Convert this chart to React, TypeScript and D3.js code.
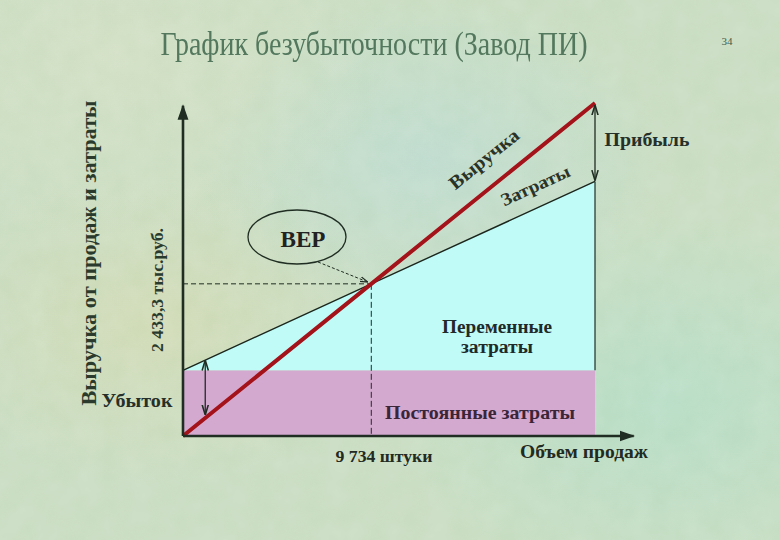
import React from "react";
import * as d3 from "d3";

// ---- data ----
const volumePoints = [0, 9734, 21300]; // units sold
const revenue = [0, 2433.3, 5325]; // thousand rub
const totalCosts = [1050, 2433.3, 4070]; // thousand rub
const fixedCosts = 1050;
const bepUnits = 9734;
const bepRevenue = 2433.3;
const lossUnits = 1150;
const xAxisMax = 23300;
const yAxisMax = 5280;

const titleText = "График безубыточности (Завод ПИ)";
const pageNumber = "34";
const yAxisLabel = "Выручка от продаж и затраты";
const bepValueLabel = "2 433,3 тыс.руб.";
const bepUnitsLabel = "9 734 штуки";
const xAxisLabel = "Объем продаж";

const W = 780;
const H = 540;

export default function App() {
  const x = d3.scaleLinear().domain([0, 21300]).range([183, 595]);
  const y = d3.scaleLinear().domain([0, 5325]).range([436, 103]);

  const maxU = volumePoints[volumePoints.length - 1];
  const costAt = (u: number) =>
    totalCosts[0] + (u * (totalCosts[2] - totalCosts[0])) / maxU;
  const revAt = (u: number) => (u * revenue[2]) / maxU;

  const line = d3
    .line<[number, number]>()
    .x((d) => x(d[0]))
    .y((d) => y(d[1]));

  const revPath = line(volumePoints.map((v, i) => [v, revenue[i]] as [number, number]));
  const costPath = line(volumePoints.map((v, i) => [v, totalCosts[i]] as [number, number]));

  const variableArea = d3
    .area<[number, number]>()
    .x((d) => x(d[0]))
    .y0(y(fixedCosts))
    .y1((d) => y(d[1]))(volumePoints.map((v, i) => [v, totalCosts[i]] as [number, number]));

  const revAngle =
    (Math.atan2(y(revenue[2]) - y(0), x(maxU) - x(0)) * 180) / Math.PI;
  const costAngle =
    (Math.atan2(y(totalCosts[2]) - y(totalCosts[0]), x(maxU) - x(0)) * 180) / Math.PI;

  const serif = "Liberation Serif";
  const dark = "#1f2d22";

  return (
    <div style={{ position: "fixed", left: 0, top: 0, width: W, height: H }}>
      <svg width={W} height={H} viewBox={`0 0 ${W} ${H}`} style={{ display: "block" }}>
        <defs>
          <radialGradient id="g1" cx="0.2" cy="0.6" r="0.3">
            <stop offset="0" stopColor="#d6d8aa" stopOpacity="0.55" />
            <stop offset="1" stopColor="#d6d8aa" stopOpacity="0" />
          </radialGradient>
          <radialGradient id="g2" cx="0.55" cy="0.3" r="0.3">
            <stop offset="0" stopColor="#b8dad2" stopOpacity="0.7" />
            <stop offset="1" stopColor="#b8dad2" stopOpacity="0" />
          </radialGradient>
          <radialGradient id="g3" cx="0.85" cy="0.75" r="0.35">
            <stop offset="0" stopColor="#b0dcc4" stopOpacity="0.8" />
            <stop offset="1" stopColor="#b0dcc4" stopOpacity="0" />
          </radialGradient>
          <radialGradient id="g4" cx="0.15" cy="0.1" r="0.35">
            <stop offset="0" stopColor="#d2dfc2" stopOpacity="0.8" />
            <stop offset="1" stopColor="#d2dfc2" stopOpacity="0" />
          </radialGradient>
          <filter id="noise" x="0" y="0" width="100%" height="100%">
            <feTurbulence type="fractalNoise" baseFrequency="0.04" numOctaves="3" seed="4" />
            <feColorMatrix
              type="matrix"
              values="0 0 0 0 1  0 0 0 0 1  0 0 0 0 1  0 0 0 0.35 0"
            />
          </filter>
          <filter id="soft" x="-5%" y="-20%" width="110%" height="140%">
            <feGaussianBlur stdDeviation="0.5" />
          </filter>
          <marker id="arrowEnd" viewBox="0 0 10 10" refX="9" refY="5" markerWidth="6" markerHeight="6" orient="auto">
            <path d="M0,1.5 L10,5 L0,8.5 z" fill={dark} />
          </marker>
          <marker id="arrowSmall" viewBox="0 0 10 10" refX="9" refY="5" markerWidth="8" markerHeight="8" orient="auto">
            <path d="M0,2 L10,5 L0,8" fill="none" stroke={dark} strokeWidth="1.5" />
          </marker>
          <marker id="arrowSmallStart" viewBox="0 0 10 10" refX="1" refY="5" markerWidth="8" markerHeight="8" orient="auto">
            <path d="M10,2 L0,5 L10,8" fill="none" stroke={dark} strokeWidth="1.5" />
          </marker>
        </defs>

        {/* background */}
        <rect width={W} height={H} fill="#c7dcc0" />
        <rect width={W} height={H} fill="url(#g1)" />
        <rect width={W} height={H} fill="url(#g2)" />
        <rect width={W} height={H} fill="url(#g3)" />
        <rect width={W} height={H} fill="url(#g4)" />
        <rect width={W} height={H} filter="url(#noise)" opacity="0.45" />

        {/* title */}
        <text x={374} y={55} textAnchor="middle" fontFamily={serif} fontSize={33} fill="#52785d"
          textLength={427} lengthAdjust="spacingAndGlyphs" filter="url(#soft)">
          {titleText}
        </text>
        <text x={727} y={45} textAnchor="middle" fontFamily={serif} fontSize={11} fill="#3d5e4c">
          {pageNumber}
        </text>

        {/* fixed costs */}
        <rect x={x(0)} y={y(fixedCosts)} width={x(maxU) - x(0)} height={y(0) - y(fixedCosts)} fill="#d4a9d0" />
        {/* variable costs */}
        <path d={variableArea || ""} fill="#c0fbf8" />
        <line x1={x(maxU)} x2={x(maxU)} y1={y(totalCosts[2])} y2={y(fixedCosts)} stroke={dark} strokeWidth={1.2} />
        {/* cost line */}
        <path d={costPath || ""} fill="none" stroke="#1a261c" strokeWidth={1.4} />

        {/* dashed guides */}
        <line x1={x(0)} x2={x(bepUnits)} y1={y(bepRevenue)} y2={y(bepRevenue)} stroke={dark} strokeWidth={1} strokeDasharray="5,3" />
        <line x1={x(bepUnits)} x2={x(bepUnits)} y1={y(bepRevenue)} y2={y(0)} stroke={dark} strokeWidth={1} strokeDasharray="6,3" />

        {/* revenue line */}
        <path d={revPath || ""} fill="none" stroke="#a4121a" strokeWidth={4} />

        {/* axes */}
        <line x1={x(0)} y1={y(0)} x2={x(0)} y2={y(yAxisMax)} stroke={dark} strokeWidth={2.6} markerEnd="url(#arrowEnd)" />
        <line x1={x(0)} y1={y(0)} x2={x(xAxisMax)} y2={y(0)} stroke={dark} strokeWidth={2.6} markerEnd="url(#arrowEnd)" />

        {/* profit arrow */}
        <line x1={x(maxU)} x2={x(maxU)} y1={y(revAt(maxU)) + 3} y2={y(costAt(maxU)) - 2} stroke={dark} strokeWidth={1.3}
          markerStart="url(#arrowSmallStart)" markerEnd="url(#arrowSmall)" />
        {/* loss arrow */}
        <line x1={x(lossUnits)} x2={x(lossUnits)} y1={y(costAt(lossUnits)) + 1} y2={y(revAt(lossUnits)) - 4} stroke={dark} strokeWidth={1.3}
          markerStart="url(#arrowSmallStart)" markerEnd="url(#arrowSmall)" />

        {/* BEP callout */}
        <ellipse cx={297} cy={237} rx={49} ry={27} fill="none" stroke={dark} strokeWidth={1.3} />
        <text x={303} y={247} textAnchor="middle" fontFamily={serif} fontWeight="bold" fontSize={23} fill="#222"
          textLength={45} lengthAdjust="spacingAndGlyphs">BEP</text>
        <line x1={318} y1={262} x2={x(bepUnits) - 4} y2={y(bepRevenue) - 2} stroke={dark} strokeWidth={1} strokeDasharray="3,2"
          markerEnd="url(#arrowSmall)" />

        {/* line labels */}
        <text transform={`translate(488,164) rotate(${revAngle})`} textAnchor="middle" fontFamily={serif} fontWeight="bold"
          fontSize={19} fill="#2a3328" textLength={84} lengthAdjust="spacingAndGlyphs">Выручка</text>
        <text transform={`translate(538,191) rotate(${costAngle})`} textAnchor="middle" fontFamily={serif} fontWeight="bold"
          fontSize={18} fill="#2a3328" textLength={74} lengthAdjust="spacingAndGlyphs">Затраты</text>

        <text x={647} y={146} textAnchor="middle" fontFamily={serif} fontWeight="bold" fontSize={19} fill="#25302a"
          textLength={85} lengthAdjust="spacingAndGlyphs">Прибыль</text>
        <text x={137} y={407} textAnchor="middle" fontFamily={serif} fontWeight="bold" fontSize={19} fill="#25302a"
          textLength={71} lengthAdjust="spacingAndGlyphs">Убыток</text>

        <text x={497} y={333} textAnchor="middle" fontFamily={serif} fontWeight="bold" fontSize={18} fill="#1f2a2a"
          textLength={110} lengthAdjust="spacingAndGlyphs">Переменные</text>
        <text x={497} y={353} textAnchor="middle" fontFamily={serif} fontWeight="bold" fontSize={18} fill="#1f2a2a"
          textLength={72} lengthAdjust="spacingAndGlyphs">затраты</text>
        <text x={480} y={419} textAnchor="middle" fontFamily={serif} fontWeight="bold" fontSize={19} fill="#3a2638"
          textLength={190} lengthAdjust="spacingAndGlyphs">Постоянные затраты</text>

        <text x={384} y={462} textAnchor="middle" fontFamily={serif} fontWeight="bold" fontSize={17} fill="#222a22"
          textLength={97} lengthAdjust="spacingAndGlyphs">{bepUnitsLabel}</text>
        <text x={584} y={458} textAnchor="middle" fontFamily={serif} fontWeight="bold" fontSize={19} fill="#222a22"
          textLength={128} lengthAdjust="spacingAndGlyphs">{xAxisLabel}</text>

        <text transform="translate(96,253) rotate(-90)" textAnchor="middle" fontFamily={serif} fontWeight="bold" fontSize={20}
          fill="#2a3a2c" textLength={305} lengthAdjust="spacingAndGlyphs">{yAxisLabel}</text>
        <text transform="translate(163,290) rotate(-90)" textAnchor="middle" fontFamily={serif} fontWeight="bold" fontSize={16}
          fill="#2a3a2c" textLength={124} lengthAdjust="spacingAndGlyphs">{bepValueLabel}</text>
      </svg>
    </div>
  );
}
